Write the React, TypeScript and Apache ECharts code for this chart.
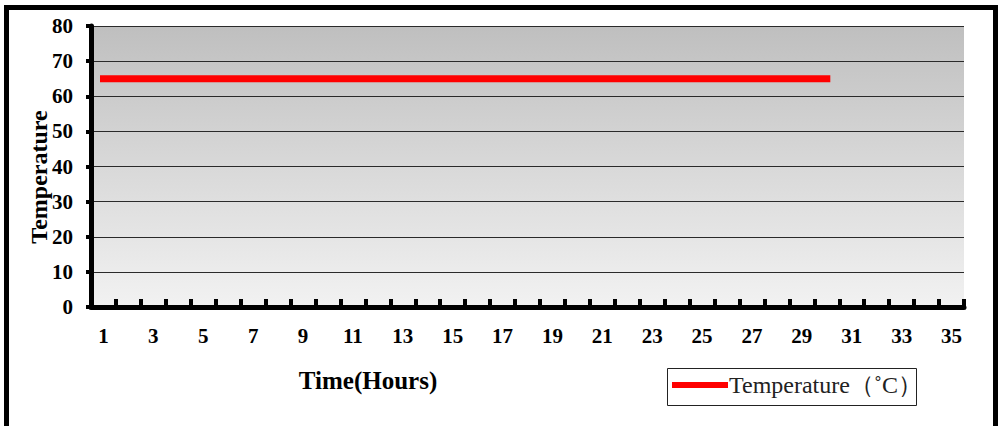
import React, { useEffect, useRef } from "react";
import * as echarts from "echarts";

const hours: string[] = Array.from({ length: 35 }, (_, i) => String(i + 1));
const temperature: number[] = [
  65, 65, 65, 65, 65, 65, 65, 65, 65, 65,
  65, 65, 65, 65, 65, 65, 65, 65, 65, 65,
  65, 65, 65, 65, 65, 65, 65, 65, 65, 65,
];
const seriesName = "Temperature（˚C）";
const yAxisTitle = "Temperature";
const xAxisTitle = "Time(Hours)";

const SERIF = "'Liberation Serif', 'Times New Roman', serif";

export default function App() {
  const ref = useRef<HTMLDivElement>(null);
  useEffect(() => {
    if (!ref.current) return;
    const chart = echarts.init(ref.current, undefined, { renderer: "svg" });
    chart.setOption({
      animation: false,
      backgroundColor: "#ffffff",
      grid: {
        left: 91,
        right: 37,
        top: 26,
        bottom: 119,
        show: true,
        borderWidth: 0,
        backgroundColor: {
          type: "linear",
          x: 0,
          y: 0,
          x2: 0,
          y2: 1,
          colorStops: [
            { offset: 0, color: "#bfbfbf" },
            { offset: 1, color: "#f2f2f2" },
          ],
        },
      },
      xAxis: {
        type: "category",
        data: hours,
        boundaryGap: true,
        axisLine: { lineStyle: { color: "#000", width: 5 } },
        axisTick: {
          show: true,
          inside: true,
          length: 8,
          interval: 0,
          lineStyle: { color: "#000", width: 4 },
        },
        axisLabel: {
          interval: 1,
          margin: 18,
          color: "#000",
          fontFamily: SERIF,
          fontWeight: "bold",
          fontSize: 21,
        },
        splitLine: { show: false },
      },
      yAxis: {
        type: "value",
        min: 0,
        max: 80,
        interval: 10,
        axisLine: { show: true, lineStyle: { color: "#000", width: 5 } },
        axisTick: {
          show: true,
          inside: false,
          length: 5,
          lineStyle: { color: "#000", width: 4 },
        },
        axisLabel: {
          margin: 18,
          color: "#000",
          fontFamily: SERIF,
          fontWeight: "bold",
          fontSize: 21,
        },
        splitLine: { show: true, lineStyle: { color: "#2a2a2a", width: 1 } },
      },
      legend: {
        show: true,
        left: 668,
        top: 373,
        orient: "horizontal",
        borderWidth: 0,
        padding: [0, 0, 0, 4],
        itemWidth: 56,
        itemHeight: 6,
        itemGap: 0,
        icon: "rect",
        textStyle: {
          color: "#222",
          fontFamily: SERIF,
          fontSize: 24,
          padding: [0, 0, 0, -4],
        },
        data: [{ name: seriesName, itemStyle: { color: "#ff0000" } }],
      },
      series: [
        {
          name: seriesName,
          type: "line",
          data: temperature,
          symbol: "none",
          lineStyle: { color: "#ff0000", width: 7, cap: "square" },
          itemStyle: { color: "#ff0000" },
        },
      ],
      graphic: [
        {
          type: "rect",
          shape: { x: 6.5, y: 7.5, width: 989, height: 440 },
          style: { fill: "none", stroke: "#000", lineWidth: 5 },
          silent: true,
        },
        {
          type: "rect",
          shape: { x: 667.5, y: 368.5, width: 249, height: 37 },
          style: { fill: "none", stroke: "#222", lineWidth: 1 },
          silent: true,
        },
        {
          type: "text",
          x: 368,
          y: 380,
          style: {
            text: xAxisTitle,
            fill: "#000",
            font: `bold 25px ${SERIF}`,
            textAlign: "center",
            textVerticalAlign: "middle",
          },
        },
        {
          type: "text",
          x: 39,
          y: 177,
          rotation: Math.PI / 2,
          style: {
            text: yAxisTitle,
            fill: "#000",
            font: `bold 24px ${SERIF}`,
            textAlign: "center",
            textVerticalAlign: "middle",
          },
        },
      ],
    });
    return () => chart.dispose();
  }, []);
  return (
    <div
      ref={ref}
      style={{ position: "fixed", left: 0, top: 0, width: 1001, height: 426 }}
    />
  );
}
